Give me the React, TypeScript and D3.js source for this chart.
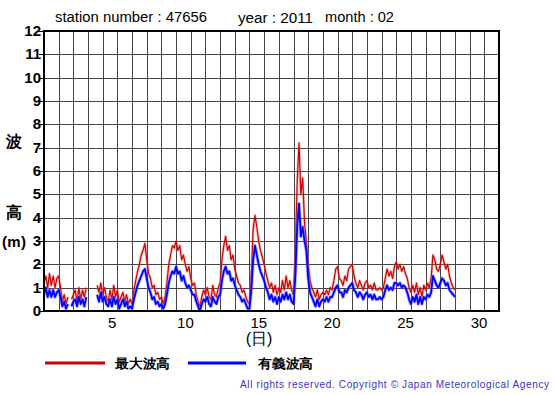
import React from "react";
import * as d3 from "d3";

// Time series sampled every 3 hours (8 per day), Feb 1 00:00 .. Feb 29 00:00
const STEPS_PER_DAY = 8;

// 最大波高 (max wave height, m)
const maxWave: (number | null)[] = [
  1.2, 1.5, 1.0, 1.6, 1.1, 1.5, 1.0, 1.4,
  1.5, 1.0, 0.4, 0.7, 0.3, 0.6, null, 0.5,
  0.7, 0.9, 0.4, 1.0, 0.5, 0.9, 0.6, 1.0,
  null, null, null, null, null, 1.1, 0.8, 1.2,
  0.7, 1.0, 0.6, 0.4, 0.9, 0.5, 1.1, 0.6,
  0.9, 0.4, 0.6, 0.8, 0.4, 0.7, 0.3, 0.5,
  0.3, 0.9, 1.3, 1.7, 2.0, 2.4, 2.6, 2.9,
  2.2, 1.6, 1.4, 1.0, 1.1, 0.7, 0.8, 0.5,
  0.6, 0.3, 0.6, 1.2, 2.0, 2.4, 2.8, 2.7,
  3.0, 2.6, 2.8, 2.2, 2.4, 2.0, 1.7, 1.9,
  1.4, 1.1, 1.2, 0.7, 0.4, 0.2, 0.6, 0.9,
  0.7, 1.0, 0.6, 0.5, 1.1, 0.7, 0.6, 1.0,
  1.2, 2.2, 2.8, 3.2, 2.6, 2.8, 2.2, 2.4,
  1.8, 1.5, 1.2, 1.1, 0.8, 0.9, 0.6, 0.4,
  0.3, 1.5, 3.5, 4.1, 3.6, 3.0, 2.6, 2.3,
  2.0, 1.6, 1.3, 1.0, 1.2, 0.8, 1.1, 0.7,
  1.0, 0.8, 1.3, 0.9, 1.5, 1.0, 1.3, 0.9,
  0.7, 2.5, 5.5, 7.2, 5.0, 5.7, 3.8, 3.0,
  2.0, 1.3, 1.0, 0.8, 0.6, 0.9, 0.5, 0.7,
  0.8, 0.7, 0.9, 0.7, 1.0, 0.9, 1.3, 1.8,
  1.9, 1.4, 1.3, 1.1, 1.5, 1.3, 1.8, 1.9,
  2.0, 1.5, 1.2, 1.0, 1.3, 1.1, 0.9, 1.2,
  1.3, 1.0, 1.1, 0.9, 1.2, 0.9, 0.9, 1.0,
  0.9, 1.0, 1.4, 1.8, 1.5, 1.7, 1.4, 1.9,
  2.1, 1.8, 2.0, 1.7, 1.9, 1.6, 1.4, 1.0,
  0.8, 1.1, 0.8, 1.2, 0.7, 1.0, 0.6, 1.1,
  0.9, 1.2, 1.0, 1.4, 2.4, 2.2, 1.8, 1.7,
  2.0, 2.4, 2.1, 1.8, 2.0, 1.5, 1.2, 1.0,
  0.9,
];

// 有義波高 (significant wave height, m)
const sigWave: (number | null)[] = [
  0.7, 1.0, 0.6, 0.9, 0.6, 0.9, 0.6, 0.8,
  0.9, 0.6, 0.2, 0.4, 0.1, 0.3, null, 0.2,
  0.4, 0.5, 0.2, 0.6, 0.3, 0.5, 0.2, 0.6,
  null, null, null, null, null, 0.7, 0.4, 0.8,
  0.4, 0.6, 0.3, 0.2, 0.5, 0.2, 0.6, 0.3,
  0.5, 0.1, 0.3, 0.5, 0.2, 0.4, 0.1, 0.2,
  0.1, 0.5, 0.8, 1.1, 1.3, 1.5, 1.7, 1.8,
  1.4, 1.0, 0.8, 0.5, 0.6, 0.3, 0.4, 0.2,
  0.3, 0.1, 0.3, 0.7, 1.2, 1.5, 1.7, 1.6,
  1.9, 1.6, 1.7, 1.3, 1.5, 1.2, 1.0, 1.1,
  0.9, 0.7, 0.7, 0.4, 0.2, 0.0, 0.3, 0.5,
  0.4, 0.6, 0.3, 0.2, 0.6, 0.4, 0.3, 0.6,
  0.7, 1.3, 1.7, 1.9, 1.6, 1.7, 1.3, 1.4,
  1.1, 0.9, 0.7, 0.6, 0.4, 0.5, 0.3, 0.1,
  0.1, 0.9, 2.2, 2.8, 2.4, 2.0, 1.7, 1.5,
  1.3, 1.0, 0.8, 0.5, 0.7, 0.4, 0.6, 0.3,
  0.6, 0.4, 0.7, 0.5, 0.8, 0.5, 0.7, 0.4,
  0.3, 1.5, 3.6, 4.6, 3.2, 3.6, 3.0, 2.6,
  1.4, 0.8, 0.6, 0.4, 0.2, 0.5, 0.2, 0.4,
  0.5, 0.4, 0.6, 0.4, 0.6, 0.6, 0.8, 1.0,
  1.1, 0.8, 0.8, 0.6, 0.9, 0.8, 1.0, 1.1,
  1.2, 0.9, 0.8, 0.6, 0.8, 0.7, 0.5, 0.7,
  0.8, 0.6, 0.7, 0.5, 0.7, 0.5, 0.5, 0.6,
  0.5, 0.6, 0.9, 1.1, 0.9, 1.0, 0.9, 1.2,
  1.2, 1.1, 1.2, 1.0, 1.1, 1.0, 0.8, 0.5,
  0.3, 0.6, 0.4, 0.7, 0.3, 0.6, 0.3, 0.6,
  0.5, 0.7, 0.6, 0.8, 1.5, 1.3, 1.1, 1.0,
  1.2, 1.4, 1.3, 1.1, 1.2, 0.9, 0.8, 0.7,
  0.6,
];

const yTicks = [0, 1, 2, 3, 4, 5, 6, 7, 8, 9, 10, 11, 12];
const xTickLabels = [5, 10, 15, 20, 25, 30];
const dayLines = d3.range(1, 31);

const titleStation = "station number : 47656";
const titleYear = "year : 2011";
const titleMonth = "month : 02";
const legendMax = "最大波高";
const legendSig = "有義波高";
const xTitle = "(日)";
const copyright = "All rights reserved. Copyright © Japan Meteorological Agency";

const W = 555;
const H = 395;
const L = 44, R = 499, T = 31, B = 311;

export default function App() {
  const x = d3.scaleLinear().domain([0, 31]).range([L, R]);
  const y = d3.scaleLinear().domain([0, 12]).range([B, T]);

  const line = d3
    .line<number | null>()
    .defined((d) => d !== null)
    .x((_, i) => x(i / STEPS_PER_DAY))
    .y((d) => y(d as number));

  const sans = "'Liberation Sans', Arial, Helvetica, sans-serif";

  return (
    <>
      <style>{`body{margin:0;padding:0;} svg{display:block;}`}</style>
      <svg width={W} height={H} style={{ background: "#fff" }} fontFamily={sans}>
        {/* title */}
        <text x={55} y={22} fontSize={14} textLength={152} lengthAdjust="spacingAndGlyphs">{titleStation}</text>
        <text x={238} y={23} fontSize={14} textLength={75} lengthAdjust="spacingAndGlyphs">{titleYear}</text>
        <text x={325} y={22} fontSize={14} textLength={69} lengthAdjust="spacingAndGlyphs">{titleMonth}</text>

        {/* grid */}
        {yTicks.slice(1, -1).map((v) => (
          <line key={"h" + v} x1={L} x2={R} y1={Math.round(y(v)) + 0.5} y2={Math.round(y(v)) + 0.5} stroke="#444" strokeWidth={1} />
        ))}
        {dayLines.map((d) => (
          <line key={"v" + d} y1={T} y2={B} x1={Math.round(x(d)) + 0.5} x2={Math.round(x(d)) + 0.5} stroke="#444" strokeWidth={1} />
        ))}

        {/* y ticks & labels */}
        {yTicks.map((v) => (
          <g key={"yt" + v}>
            <line x1={L - 5} x2={L} y1={Math.round(y(v)) + 0.5} y2={Math.round(y(v)) + 0.5} stroke="#000" strokeWidth={1} />
            <text x={L - 3} y={y(v) + 5} fontSize={15} fontWeight="bold" textAnchor="end">{v}</text>
          </g>
        ))}

        {/* x labels */}
        {xTickLabels.map((d) => (
          <text key={"xt" + d} x={x(d - 0.5) + 2} y={328} fontSize={15} textAnchor="middle">{d}</text>
        ))}
        <text x={259} y={344} fontSize={16} textAnchor="middle">{xTitle}</text>

        {/* y axis title */}
        <text x={14} y={147} fontSize={16} fontWeight="bold" textAnchor="middle">波</text>
        <text x={14} y={218} fontSize={16} fontWeight="bold" textAnchor="middle">高</text>
        <text x={2} y={247} fontSize={15} fontWeight="bold" textLength={24} lengthAdjust="spacing">(m)</text>

        {/* series */}
        <g clipPath="url(#plotclip)">
          <path d={line(maxWave) || ""} fill="none" stroke="#e06666" strokeOpacity={0.4} strokeWidth={2.8} strokeLinejoin="round" />
          <path d={line(maxWave) || ""} fill="none" stroke="#cc0000" strokeWidth={1.2} strokeLinejoin="round" />
          <path d={line(sigWave) || ""} fill="none" stroke="#6666ff" strokeOpacity={0.5} strokeWidth={3.5} strokeLinejoin="round" />
          <path d={line(sigWave) || ""} fill="none" stroke="#0000ff" strokeWidth={1.8} strokeLinejoin="round" />
        </g>
        <defs>
          <clipPath id="plotclip">
            <rect x={L} y={T} width={R - L} height={B - T} />
          </clipPath>
        </defs>

        {/* frame */}
        <rect x={L} y={T} width={R - L} height={B - T} fill="none" stroke="#000" strokeWidth={2} />

        {/* legend */}
        <line x1={45} x2={105} y1={363} y2={363} stroke="#cc0000" strokeWidth={3} />
        <text x={115} y={368} fontSize={13} fontWeight="bold" textLength={55} lengthAdjust="spacingAndGlyphs">{legendMax}</text>
        <line x1={188} x2={246} y1={363} y2={363} stroke="#0000ff" strokeWidth={3} />
        <text x={258} y={368} fontSize={13} fontWeight="bold" textLength={55} lengthAdjust="spacingAndGlyphs">{legendSig}</text>

        {/* copyright */}
        <text x={240} y={388} fontSize={10} fill="#3333cc" textLength={309} lengthAdjust="spacing">{copyright}</text>
      </svg>
    </>
  );
}
